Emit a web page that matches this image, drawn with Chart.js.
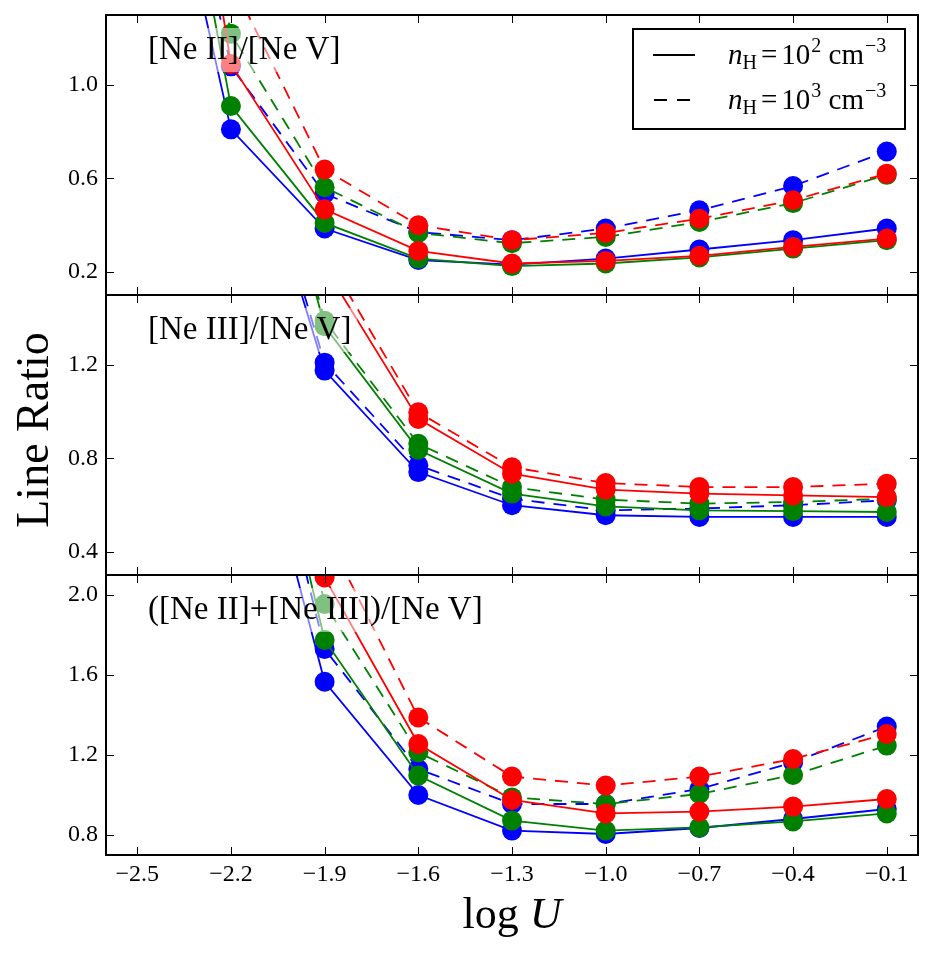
<!DOCTYPE html>
<html>
<head>
<meta charset="utf-8">
<script src="https://cdn.jsdelivr.net/npm/chart.js@4.4.1/dist/chart.umd.min.js"></script>
<style>
  html, body { margin: 0; padding: 0; background: #fff; }
</style>
</head>
<body>
<canvas id="grafica" width="936" height="956"></canvas>
<script type="text/javascript">

    // log U de los modelos
    var logU = [-2.5, -2.2, -1.9, -1.6, -1.3, -1.0, -0.7, -0.4, -0.1]
    var xTicks = [-2.5, -2.2, -1.9, -1.6, -1.3, -1.0, -0.7, -0.4, -0.1]

    // [Ne II]/[Ne V]  (n2 = 10^2 cm-3, n3 = 10^3 cm-3)
    var ne2_azul_n2  = [2.60, 0.81, 0.385, 0.250, 0.230, 0.256, 0.295, 0.335, 0.385]
    var ne2_azul_n3  = [2.90, 1.08, 0.534, 0.370, 0.335, 0.385, 0.463, 0.567, 0.715]
    var ne2_verde_n2 = [3.05, 0.91, 0.409, 0.256, 0.224, 0.235, 0.261, 0.299, 0.335]
    var ne2_verde_n3 = [3.40, 1.22, 0.562, 0.366, 0.322, 0.349, 0.413, 0.494, 0.615]
    var ne2_rojo_n2  = [3.60, 1.09, 0.467, 0.289, 0.235, 0.246, 0.268, 0.306, 0.342]
    var ne2_rojo_n3  = [4.40, 1.45, 0.638, 0.399, 0.335, 0.366, 0.427, 0.506, 0.620]
    var ticksNe2 = [0.2, 0.6, 1.0]

    // [Ne III]/[Ne V]
    var ne3_azul_n2  = [5.00, 2.50, 1.176, 0.741, 0.599, 0.556, 0.549, 0.549, 0.549]
    var ne3_azul_n3  = [5.20, 2.55, 1.210, 0.770, 0.627, 0.577, 0.585, 0.599, 0.620]
    var ne3_verde_n2 = [5.60, 2.85, 1.366, 0.837, 0.649, 0.594, 0.577, 0.574, 0.570]
    var ne3_verde_n3 = [5.70, 2.90, 1.390, 0.862, 0.677, 0.623, 0.606, 0.613, 0.627]
    var ne3_rojo_n2  = [6.50, 3.00, 1.620, 0.969, 0.734, 0.666, 0.649, 0.641, 0.634]
    var ne3_rojo_n3  = [6.60, 3.05, 1.680, 0.997, 0.762, 0.694, 0.677, 0.677, 0.691]
    var ticksNe3 = [0.4, 0.8, 1.2]

    // ([Ne II]+[Ne III])/[Ne V]
    var suma_azul_n2  = [7.60, 3.35, 1.566, 1.000, 0.822, 0.805, 0.835, 0.880, 0.930]
    var suma_azul_n3  = [8.10, 3.63, 1.730, 1.130, 0.955, 0.955, 1.030, 1.163, 1.342]
    var suma_verde_n2 = [8.65, 3.76, 1.775, 1.097, 0.872, 0.822, 0.838, 0.868, 0.908]
    var suma_verde_n3 = [9.10, 4.12, 1.955, 1.213, 0.988, 0.955, 1.005, 1.100, 1.247]
    var suma_rojo_n2  = [10.1, 4.09, 2.088, 1.255, 0.975, 0.908, 0.917, 0.942, 0.980]
    var suma_rojo_n3  = [11.0, 4.50, 2.320, 1.388, 1.092, 1.047, 1.092, 1.180, 1.305]
    var ticksSuma = [0.8, 1.2, 1.6, 2.0]

    var colores = ['#0000ff', '#008000', '#ff0000']
    var fuente = '"Liberation Serif", "Times New Roman", serif'

    var paneles = [
        {id: 'yA', peso: 3, texto: '[Ne II]/[Ne V]', min: 0.1, max: 1.3, ticks: ticksNe2,
         series: [ne2_azul_n2, ne2_azul_n3, ne2_verde_n2, ne2_verde_n3, ne2_rojo_n2, ne2_rojo_n3]},
        {id: 'yB', peso: 2, texto: '[Ne III]/[Ne V]', min: 0.3, max: 1.5, ticks: ticksNe3,
         series: [ne3_azul_n2, ne3_azul_n3, ne3_verde_n2, ne3_verde_n3, ne3_rojo_n2, ne3_rojo_n3]},
        {id: 'yC', peso: 1, texto: '([Ne II]+[Ne III])/[Ne V]', min: 0.7, max: 2.1, ticks: ticksSuma,
         series: [suma_azul_n2, suma_azul_n3, suma_verde_n2, suma_verde_n3, suma_rojo_n2, suma_rojo_n3]}
    ]

    function menos(v) {
        return v.toFixed(1).replace('-', '\u2212')
    }

    var datasets = []
    paneles.forEach(function(p) {
        p.series.forEach(function(serie, i) {
            var color = colores[Math.floor(i / 2)]
            datasets.push({
                yAxisID: p.id,
                data: logU.map(function(x, k) { return {x: x, y: serie[k]} }),
                borderColor: color,
                backgroundColor: color,
                borderWidth: 1.8,
                borderDash: (i % 2 == 1) ? [13, 9] : [],
                pointRadius: 10,
                pointBorderWidth: 0,
                pointBackgroundColor: color,
                tension: 0,
                clip: 0,
                // los ultimos de la lista quedan encima
                order: 5 - i
            })
        })
    })

    var escalas = {
        x: {
            type: 'linear', min: -2.6, max: 0.0,
            afterBuildTicks: function(s) { s.ticks = xTicks.map(function(v) { return {value: v} }) },
            afterFit: function(s) { s.height = 101; s.paddingLeft = 0; s.paddingRight = 0 },
            grid: {display: false, drawTicks: false},
            border: {display: false},
            ticks: {font: {family: fuente, size: 24}, color: '#000', padding: 5,
                    maxRotation: 0, autoSkip: false, callback: function(v) { return menos(v) }}
        }
    }
    paneles.slice().reverse().forEach(function(p) {
        escalas[p.id] = {
            type: 'linear', position: 'left', stack: 'paneles', stackWeight: 1, weight: p.peso,
            min: p.min, max: p.max,
            afterBuildTicks: function(s) { s.ticks = p.ticks.map(function(v) { return {value: v} }) },
            // ancho fijo y sin relleno extra arriba/abajo
            afterFit: function(s) { s.width = 106; s.paddingTop = 0; s.paddingBottom = 0 },
            grid: {display: false, drawTicks: false},
            border: {display: false},
            ticks: {font: {family: fuente, size: 24}, color: '#000', padding: 8,
                    callback: function(v) { return v.toFixed(1) }}
        }
    })

    // textos con sub/superindices
    function textoPartes(ctx, partes, x, y) {
        partes.forEach(function(p) {
            ctx.font = p.f
            x += p.antes || 0
            ctx.fillText(p.t, x, y + (p.dy || 0))
            x += ctx.measureText(p.t).width + (p.despues || 0)
        })
    }

    var marcos = {
        id: 'marcos',
        afterDatasetsDraw: function(chart) {
            var ctx = chart.ctx
            ctx.save()
            // etiquetas de cada panel con fondo semitransparente
            paneles.forEach(function(p) {
                var ys = chart.scales[p.id]
                ctx.font = '33px ' + fuente
                var w = ctx.measureText(p.texto).width
                var base = ys.top + 44
                ctx.fillStyle = 'rgba(255,255,255,0.5)'
                ctx.fillRect(142, base - 31, w + 12, 44)
                ctx.fillStyle = '#000'
                ctx.textBaseline = 'alphabetic'
                ctx.textAlign = 'left'
                ctx.fillText(p.texto, 148, base)
            })

            // leyenda
            ctx.fillStyle = '#fff'
            ctx.fillRect(633, 29, 272, 100)
            ctx.strokeStyle = '#000'
            ctx.lineWidth = 2
            ctx.strokeRect(633, 29, 272, 100)
            ctx.lineWidth = 1.8
            ctx.beginPath(); ctx.moveTo(653, 55); ctx.lineTo(695, 55); ctx.stroke()
            ctx.setLineDash([13, 10])
            ctx.beginPath(); ctx.moveTo(654, 100); ctx.lineTo(695, 100); ctx.stroke()
            ctx.setLineDash([])
            ctx.fillStyle = '#000'
            var grande = '29px ' + fuente, chica = '20px ' + fuente
            ;['2', '3'].forEach(function(exp, k) {
                var yb = 64 + k * 45
                textoPartes(ctx, [
                    {t: 'n', f: 'italic ' + grande},
                    {t: 'H', f: chica, dy: 5},
                    {t: '=', f: grande, antes: 4, despues: 4},
                    {t: '10', f: grande},
                    {t: exp, f: chica, dy: -12, antes: 1},
                    {t: ' cm', f: grande},
                    {t: '\u22123', f: chica, dy: -12, antes: 1}
                ], 728, yb)
            })
            ctx.restore()
        },
        afterDraw: function(chart) {
            var ctx = chart.ctx
            var xs = chart.scales.x
            ctx.save()
            ctx.strokeStyle = '#000'
            paneles.forEach(function(p) {
                var ys = chart.scales[p.id]
                ctx.lineWidth = 1
                ctx.beginPath()
                p.ticks.forEach(function(v) {
                    var py = Math.round(ys.getPixelForValue(v)) + 0.5
                    ctx.moveTo(xs.left, py); ctx.lineTo(xs.left + 8, py)
                    ctx.moveTo(xs.right, py); ctx.lineTo(xs.right - 8, py)
                })
                xTicks.forEach(function(v) {
                    var px = Math.round(xs.getPixelForValue(v)) + 0.5
                    ctx.moveTo(px, ys.top); ctx.lineTo(px, ys.top + 8)
                    ctx.moveTo(px, ys.bottom); ctx.lineTo(px, ys.bottom - 8)
                })
                ctx.stroke()
                ctx.lineWidth = 2
                ctx.strokeRect(xs.left, ys.top, xs.right - xs.left, ys.bottom - ys.top)
            })

            // titulos de los ejes
            ctx.fillStyle = '#000'
            ctx.textBaseline = 'alphabetic'
            ctx.font = '44px ' + fuente
            var w1 = ctx.measureText('log ').width
            ctx.font = 'italic 44px ' + fuente
            var w2 = ctx.measureText('U').width
            var x0 = (xs.left + xs.right) / 2 - (w1 + w2) / 2
            ctx.font = '44px ' + fuente
            ctx.textAlign = 'left'
            ctx.fillText('log ', x0, 928)
            ctx.font = 'italic 44px ' + fuente
            ctx.fillText('U', x0 + w1, 928)

            ctx.translate(48, 430)
            ctx.rotate(-Math.PI / 2)
            ctx.font = '46px ' + fuente
            ctx.textAlign = 'center'
            ctx.fillText('Line Ratio', 0, 0)
            ctx.restore()
        }
    }

    var canvas = document.getElementById('grafica')
    var context = canvas.getContext('2d')
    window.grafica = new Chart(context, {
        type: 'line',
        data: {datasets: datasets},
        options: {
            responsive: false,
            animation: false,
            devicePixelRatio: 1,
            events: [],
            layout: {autoPadding: false, padding: {top: 15, right: 18, left: 0, bottom: 0}},
            plugins: {legend: {display: false}, tooltip: {enabled: false}, title: {display: false}},
            scales: escalas
        },
        plugins: [marcos]
    })

</script>
</body>
</html>
